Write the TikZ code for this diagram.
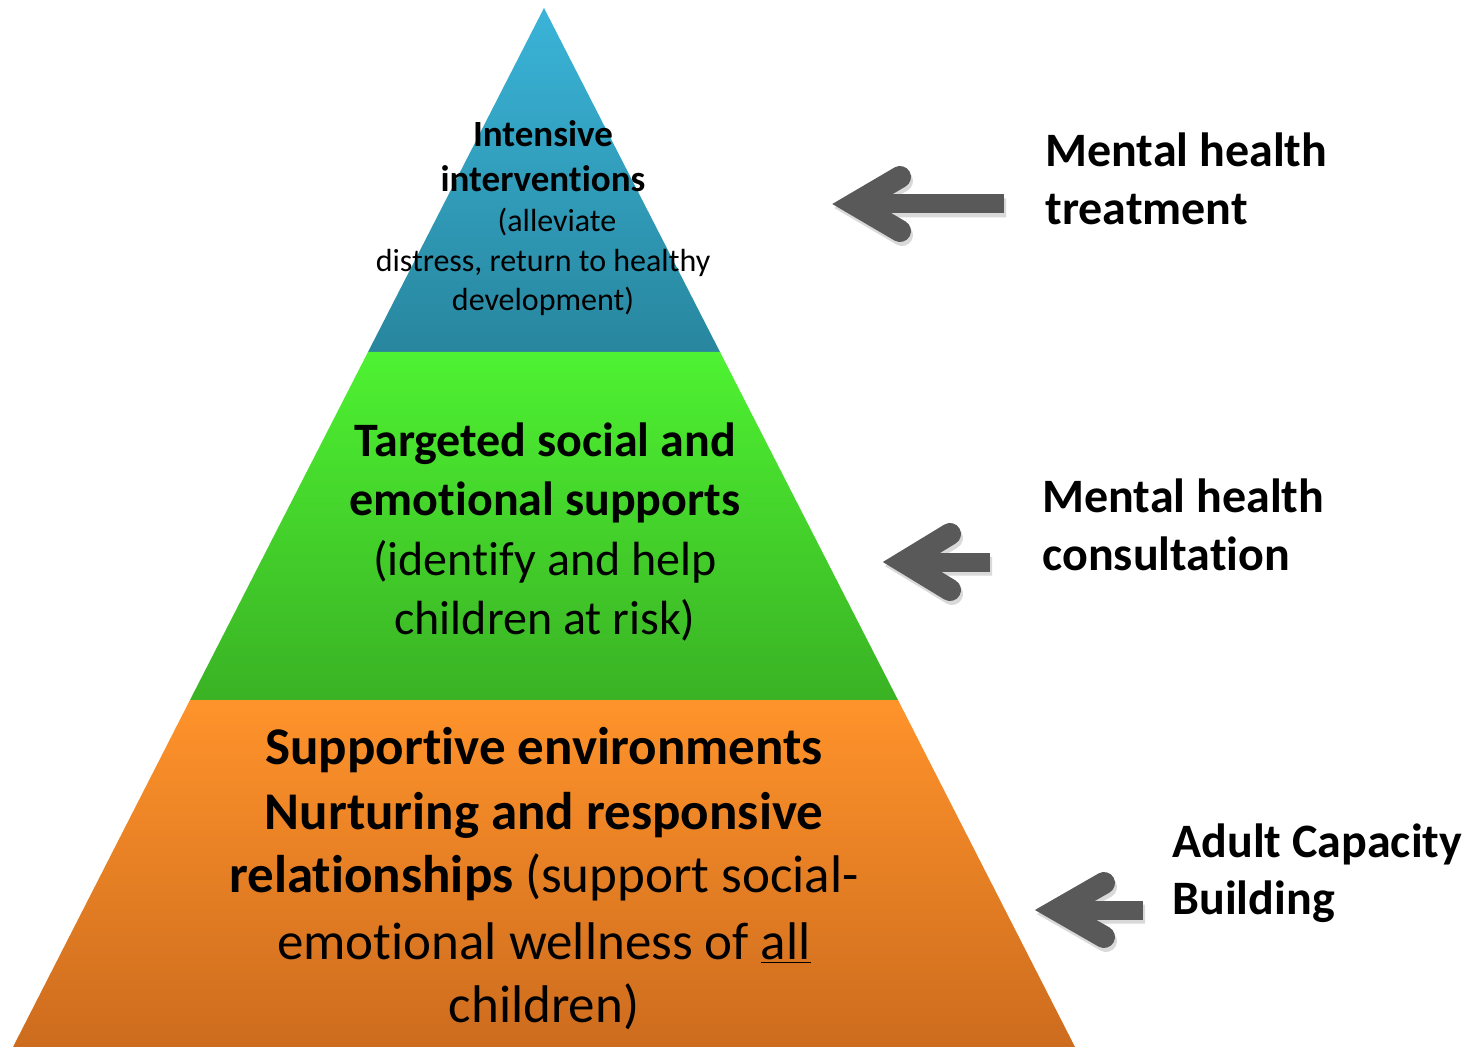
\documentclass[tikz,border=0pt]{standalone}
\usepackage{fontspec}
\setmainfont{Carlito}[Ligatures=NoCommon]
\definecolor{blueT}{RGB}{58,180,216}
\definecolor{blueB}{RGB}{40,134,158}
\definecolor{greenT}{RGB}{78,242,50}
\definecolor{greenB}{RGB}{58,178,36}
\definecolor{orangeT}{RGB}{255,147,43}
\definecolor{orangeB}{RGB}{205,108,30}
\definecolor{arrowgrey}{RGB}{89,89,89}
\newcommand\mharrow[6]{%
  \draw[line width=11pt, line cap=round, line join=miter, #6] (#3,#2-#4) -- (#1,#2) -- (#3,#2+#4);
  \draw[line width=9.5pt, line cap=butt, #6] (#1,#2) -- (#5,#2);
}
\begin{document}
\begin{tikzpicture}[x=0.5pt,y=-0.5pt,
  tb/.style={font=\bfseries\fontsize{18.5}{22}\selectfont, inner sep=0, anchor=base},
  tr/.style={font=\fontsize{16}{19}\selectfont, inner sep=0, anchor=base},
  mb/.style={font=\bfseries\fontsize{24}{29}\selectfont, inner sep=0, anchor=base},
  mr/.style={font=\fontsize{24}{29}\selectfont, inner sep=0, anchor=base},
  bb/.style={font=\fontsize{26.5}{32}\selectfont, inner sep=0, anchor=base},
  lab/.style={font=\bfseries\fontsize{24}{29}\selectfont, inner sep=0, anchor=base west}]
\useasboundingbox (0,0) rectangle (1476,1047);
\fill[white] (0,0) rectangle (1476,1047);
% pyramid tiers
\coordinate (apex) at (544,8);
\coordinate (tl) at (368,352);
\coordinate (tr) at (720,352);
\coordinate (ml) at (190,700);
\coordinate (mr) at (898,700);
\coordinate (bl) at (13,1047);
\coordinate (br) at (1075,1047);
\shade[top color=blueT, bottom color=blueB] (apex) -- (tr) -- (tl) -- cycle;
\shade[top color=greenT, bottom color=greenB] (tl) -- (tr) -- (mr) -- (ml) -- cycle;
\shade[top color=orangeT, bottom color=orangeB] (ml) -- (mr) -- (br) -- (bl) -- cycle;
% arrows: soft shadows
\begin{scope}[shift={(2,4)}, transparency group, opacity=0.15]
  \mharrow{854}{204}{900}{27}{1004}{black}
  \mharrow{904}{562}{950}{28}{990}{black}
  \mharrow{1057}{910}{1104}{27}{1143}{black}
\end{scope}
\mharrow{854}{204}{900}{27}{1004}{arrowgrey}
\mharrow{904}{562}{950}{28}{990}{arrowgrey}
\mharrow{1057}{910}{1104}{27}{1143}{arrowgrey}
% top tier text
\node[tb] (t1) at (543,147) {Intensive};
\node[tb] (t2) at (543,192) {interventions};
\node[tr] (t3) at (557,232) {(alleviate};
\node[tr] (t4) at (543,272) {distress, return to healthy};
\node[tr] (t5) at (543,311) {development)};
% middle tier text
\node[mb] (m1) at (545,457) {Targeted social and};
\node[mb] (m2) at (545,515) {emotional supports};
\node[mr] (m3) at (545,575) {(identify and help};
\node[mr] (m4) at (545,634) {children at risk)};
% bottom tier text
\node[bb] (b1) at (544,764) {\bfseries Supportive environments};
\node[bb] (b2) at (544,829) {\bfseries Nurturing and responsive};
\node[bb] (b3) at (544,892) {\textbf{relationships} (support social-};
\node[bb] (b4) at (544,959) {emotional wellness of \underline{all}};
\node[bb] (b5) at (544,1022) {children)};
% right labels
\node[lab] (r1) at (1045,167) {Mental health};
\node[lab] (r2) at (1045,225) {treatment};
\node[lab] (r3) at (1042,512) {Mental health};
\node[lab] (r4) at (1042,570) {consultation};
\node[lab] (r5) at (1172,857) {Adult Capacity};
\node[lab] (r6) at (1172,914) {Building};
\end{tikzpicture}
\end{document}
